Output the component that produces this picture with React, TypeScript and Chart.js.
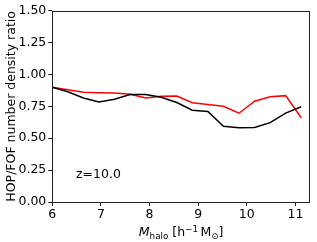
import React, { useEffect, useRef } from "react";
import { Chart, registerables } from "chart.js";

Chart.register(...registerables);

const massBins = [6.0, 6.32, 6.64, 6.96, 7.28, 7.6, 7.92, 8.24, 8.56, 8.88, 9.2, 9.52, 9.84, 10.16, 10.48, 10.8, 11.12];
const ratioBlack = [0.90, 0.865, 0.815, 0.785, 0.805, 0.842, 0.842, 0.822, 0.78, 0.72, 0.71, 0.594, 0.583, 0.585, 0.622, 0.697, 0.747];
const ratioRed = [0.90, 0.88, 0.86, 0.857, 0.855, 0.845, 0.815, 0.829, 0.831, 0.779, 0.765, 0.75, 0.696, 0.79, 0.826, 0.834, 0.661];
const xTicks = [6, 7, 8, 9, 10, 11];
const yTicks = [0, 0.25, 0.5, 0.75, 1.0, 1.25, 1.5];
const yTitle = "HOP/FOF number density ratio";
const annotation = "z=10.0";

const FONT = "'DejaVu Sans', sans-serif";
const FS = 12.5;

const decorPlugin = {
  id: "decor",
  afterDraw(chart: any) {
    const ctx = chart.ctx as CanvasRenderingContext2D;
    const a = chart.chartArea;
    ctx.save();
    // frame
    ctx.strokeStyle = "#222";
    ctx.lineWidth = 1;
    ctx.strokeRect(Math.round(a.left) + 0.5, Math.round(a.top) + 0.5, Math.round(a.right - a.left) - 1, Math.round(a.bottom - a.top));
    // annotation
    ctx.fillStyle = "#000";
    ctx.font = `${FS}px ${FONT}`;
    ctx.textAlign = "left";
    ctx.textBaseline = "alphabetic";
    ctx.fillText(annotation, 76, 178);
    // y title
    ctx.save();
    ctx.translate(15.3, (a.top + a.bottom) / 2);
    ctx.rotate(-Math.PI / 2);
    ctx.textAlign = "center";
    ctx.fillText(yTitle, 0, 0);
    ctx.restore();
    // x title with sub/superscripts
    const small = FS * 0.7;
    const segs: { t: string; f: string; dy: number }[] = [
      { t: "M", f: `italic ${FS}px ${FONT}`, dy: 0 },
      { t: "halo", f: `${small}px ${FONT}`, dy: 2.5 },
      { t: " [h", f: `${FS}px ${FONT}`, dy: 0 },
      { t: "\u22121", f: `${small}px ${FONT}`, dy: -4.5 },
      { t: "\u2009M", f: `${FS}px ${FONT}`, dy: 0 },
      { t: "\u2299", f: `${small}px ${FONT}`, dy: 2.5 },
      { t: "]", f: `${FS}px ${FONT}`, dy: 0 },
    ];
    let total = 0;
    const widths = segs.map((s) => {
      ctx.font = s.f;
      const w = ctx.measureText(s.t).width;
      total += w;
      return w;
    });
    let x = (a.left + a.right) / 2 - total / 2;
    const base = 236;
    ctx.textAlign = "left";
    segs.forEach((s, i) => {
      ctx.font = s.f;
      ctx.fillText(s.t, x, base + s.dy);
      x += widths[i];
    });
    ctx.restore();
  },
};

export default function App() {
  const ref = useRef<HTMLCanvasElement | null>(null);
  useEffect(() => {
    if (!ref.current) return;
    const chart = new Chart(ref.current, {
      type: "line",
      data: {
        datasets: [
          {
            label: "black",
            data: massBins.map((m, i) => ({ x: m, y: ratioBlack[i] })),
            borderColor: "#000000",
            borderWidth: 1.5,
            pointRadius: 0,
            tension: 0,
            fill: false,
          },
          {
            label: "red",
            data: massBins.map((m, i) => ({ x: m, y: ratioRed[i] })),
            borderColor: "#ff0000",
            borderWidth: 1.5,
            pointRadius: 0,
            tension: 0,
            fill: false,
          },
        ],
      },
      options: {
        animation: false,
        responsive: false,
        devicePixelRatio: 1,
        layout: { padding: { left: 0, right: 7, top: 10.7, bottom: 0 } },
        plugins: { legend: { display: false }, tooltip: { enabled: false } },
        scales: {
          x: {
            type: "linear",
            min: 6,
            max: 11.3,
            afterBuildTicks: (s: any) => {
              s.ticks = xTicks.map((v) => ({ value: v }));
            },
            afterFit: (s: any) => {
              s.height = 40;
            },
            grid: { drawOnChartArea: false, drawTicks: true, tickLength: 4, color: "#222" },
            border: { display: false },
            ticks: { color: "#000", font: { family: FONT, size: FS }, padding: 1, maxRotation: 0, autoSkip: false },
          },
          y: {
            type: "linear",
            min: 0,
            max: 1.5,
            afterBuildTicks: (s: any) => {
              s.ticks = yTicks.map((v) => ({ value: v }));
            },
            afterFit: (s: any) => {
              s.width = 52.3;
            },
            grid: { drawOnChartArea: false, drawTicks: true, tickLength: 4, color: "#222" },
            border: { display: false },
            ticks: {
              color: "#000",
              font: { family: FONT, size: FS },
              padding: 2,
              autoSkip: false,
              callback: (v: any) => Number(v).toFixed(2),
            },
          },
        },
      },
      plugins: [decorPlugin],
    });
    return () => chart.destroy();
  }, []);
  return (
    <div style={{ position: "fixed", left: 0, top: 0, width: 317, height: 242, background: "#fff" }}>
      <canvas ref={ref} width={317} height={242} style={{ width: 317, height: 242, display: "block" }} />
    </div>
  );
}
